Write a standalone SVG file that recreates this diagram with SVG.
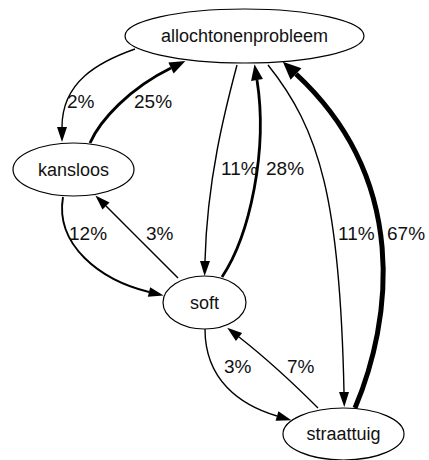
<svg xmlns="http://www.w3.org/2000/svg" width="429" height="460" viewBox="0 0 429 460">
<style>
  .node ellipse { fill: #ffffff; stroke: #000000; stroke-width: 1.2; }
  .node text { font-family: "Liberation Sans", Arial, sans-serif; font-size: 18px; fill: #111111; text-anchor: middle; }
  .edge path { fill: none; stroke: #000000; }
  .lbl { font-family: "Liberation Sans", Arial, sans-serif; font-size: 19px; fill: #111111; }
  .w1 { stroke-width: 1.4; marker-end: url(#arr); }
  .w2 { stroke-width: 1.9; marker-end: url(#arr); }
  .w3 { stroke-width: 2.8; marker-end: url(#arrM); }
  .w4 { stroke-width: 5; marker-end: url(#arrL); }
</style>
<defs>
  <marker id="arr" markerUnits="userSpaceOnUse" orient="auto" refX="0" refY="0" viewBox="0 -8 20 16" markerWidth="20" markerHeight="16" overflow="visible">
    <path d="M0,-5 L15,0 L0,5 Z" fill="#000"/>
  </marker>
  <marker id="arrM" markerUnits="userSpaceOnUse" orient="auto" refX="0" refY="0" viewBox="0 -8 20 16" markerWidth="20" markerHeight="16" overflow="visible">
    <path d="M0,-6 L16,0 L0,6 Z" fill="#000"/>
  </marker>
  <marker id="arrL" markerUnits="userSpaceOnUse" orient="auto" refX="0" refY="0" viewBox="0 -10 22 20" markerWidth="22" markerHeight="20" overflow="visible">
    <path d="M0,-8 L18,0 L0,8 Z" fill="#000"/>
  </marker>
</defs>
<g id="edges" class="edge">
  <path class="w1" d="M135,49 C98,62 62,82 62,127"/>
  <path class="w3" d="M90,143 C100,120 130,88 171,68"/>
  <path class="w1" d="M237,65 C225,110 207,180 205,261"/>
  <path class="w3" d="M222,277 C250,235 268,150 257,80"/>
  <path class="w1" d="M268,65 C320,130 340,200 344,392"/>
  <path class="w4" d="M355,408 C392,320 410,180 296,74"/>
  <path class="w2" d="M63,197 C55,245 100,280 149,292"/>
  <path class="w1" d="M178,278 C155,255 130,230 106,206"/>
  <path class="w1" d="M205,329 C205,380 240,405 277,416"/>
  <path class="w1" d="M318,408 C295,385 262,355 239,337"/>
  <text class="lbl" x="67" y="108">2%</text>
  <text class="lbl" x="134" y="108">25%</text>
  <text class="lbl" x="221" y="175">11%</text>
  <text class="lbl" x="266" y="175">28%</text>
  <text class="lbl" x="338" y="240">11%</text>
  <text class="lbl" x="387" y="240">67%</text>
  <text class="lbl" x="69" y="240">12%</text>
  <text class="lbl" x="146" y="240">3%</text>
  <text class="lbl" x="224" y="373">3%</text>
  <text class="lbl" x="287" y="373">7%</text>
</g>
<g id="allochtonenprobleem" class="node">
  <ellipse cx="244.5" cy="36" rx="119.5" ry="27"/>
  <text x="244.5" y="42">allochtonenprobleem</text>
</g>
<g id="kansloos" class="node">
  <ellipse cx="73.5" cy="169.5" rx="60.5" ry="26.5"/>
  <text x="73.5" y="175.5">kansloos</text>
</g>
<g id="soft" class="node">
  <ellipse cx="204.5" cy="302.5" rx="41.5" ry="26.5"/>
  <text x="204.5" y="308.5">soft</text>
</g>
<g id="straattuig" class="node">
  <ellipse cx="343.5" cy="434" rx="60.5" ry="26"/>
  <text x="343.5" y="440">straattuig</text>
</g>
</svg>
